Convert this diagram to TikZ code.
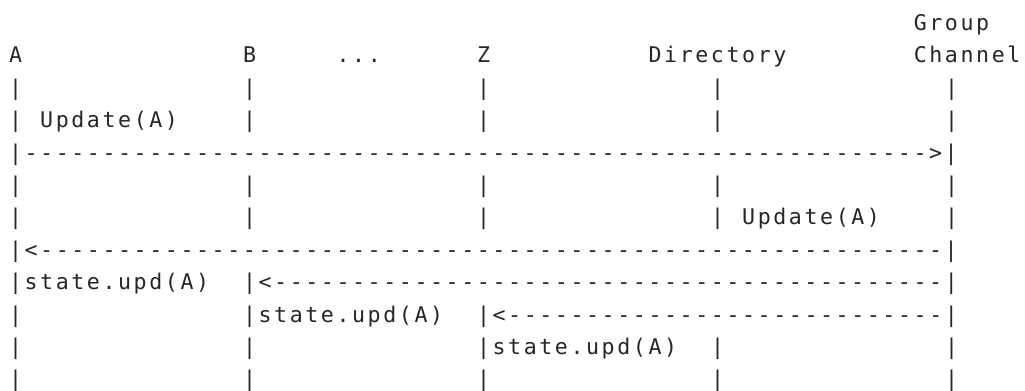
\documentclass[tikz,border=0pt]{standalone}
\usepackage{fontspec}
\setmonofont[LetterSpace=12.0]{DejaVu Sans Mono}
\definecolor{ink}{HTML}{262626}
\ExplSyntaxOn
\cs_new:Npn \myrep #1#2 {\prg_replicate:nn{#1}{#2}}
\ExplSyntaxOff
\newcommand\T[4]{\node[txt] (#1) at ({9.0+15.6*(#2)},{30.5+32.4*(#3)}) {#4};}
\newcommand\pipes[2]{\foreach \c in {#2} {\node[txt] (p#1-\c) at ({9.0+15.6*(\c)},{30.5+32.4*(#1)}) {|};}}
\begin{document}
\begin{tikzpicture}[x=0.75pt,y=-0.75pt,
  txt/.style={anchor=base west,inner sep=0pt,outer sep=0pt,text=ink,
    font=\ttfamily\fontsize{16.2pt}{19pt}\selectfont}]
\useasboundingbox (0,0) rectangle (1025,390);
% row 0
\T{group}{58}{0}{Group}
% row 1
\T{A}{0}{1}{A}
\T{B}{15}{1}{B}
\T{dots}{21}{1}{...}
\T{Z}{30}{1}{Z}
\T{dir}{41}{1}{Directory}
\T{chan}{58}{1}{Channel}
% row 2
\pipes{2}{0,15,30,45,60}
% row 3
\pipes{3}{0,15,30,45,60}
\T{upd1}{2}{3}{Update(A)}
% row 4
\T{r4a}{0}{4}{|}
\T{r4b}{1}{4}{\myrep{58}{-}>|}
% row 5
\pipes{5}{0,15,30,45,60}
% row 6
\pipes{6}{0,15,30,45,60}
\T{upd2}{47}{6}{Update(A)}
% row 7
\T{r7}{0}{7}{|<\myrep{58}{-}|}
% row 8
\T{s8}{0}{8}{|state.upd(A)}
\T{r8}{15}{8}{|<\myrep{43}{-}|}
% row 9
\T{r9a}{0}{9}{|}
\T{s9}{15}{9}{|state.upd(A)}
\T{r9}{30}{9}{|<\myrep{28}{-}|}
% row 10
\pipes{10}{0,15,45,60}
\T{s10}{30}{10}{|state.upd(A)}
% row 11
\pipes{11}{0,15,30,45,60}
\end{tikzpicture}
\end{document}
